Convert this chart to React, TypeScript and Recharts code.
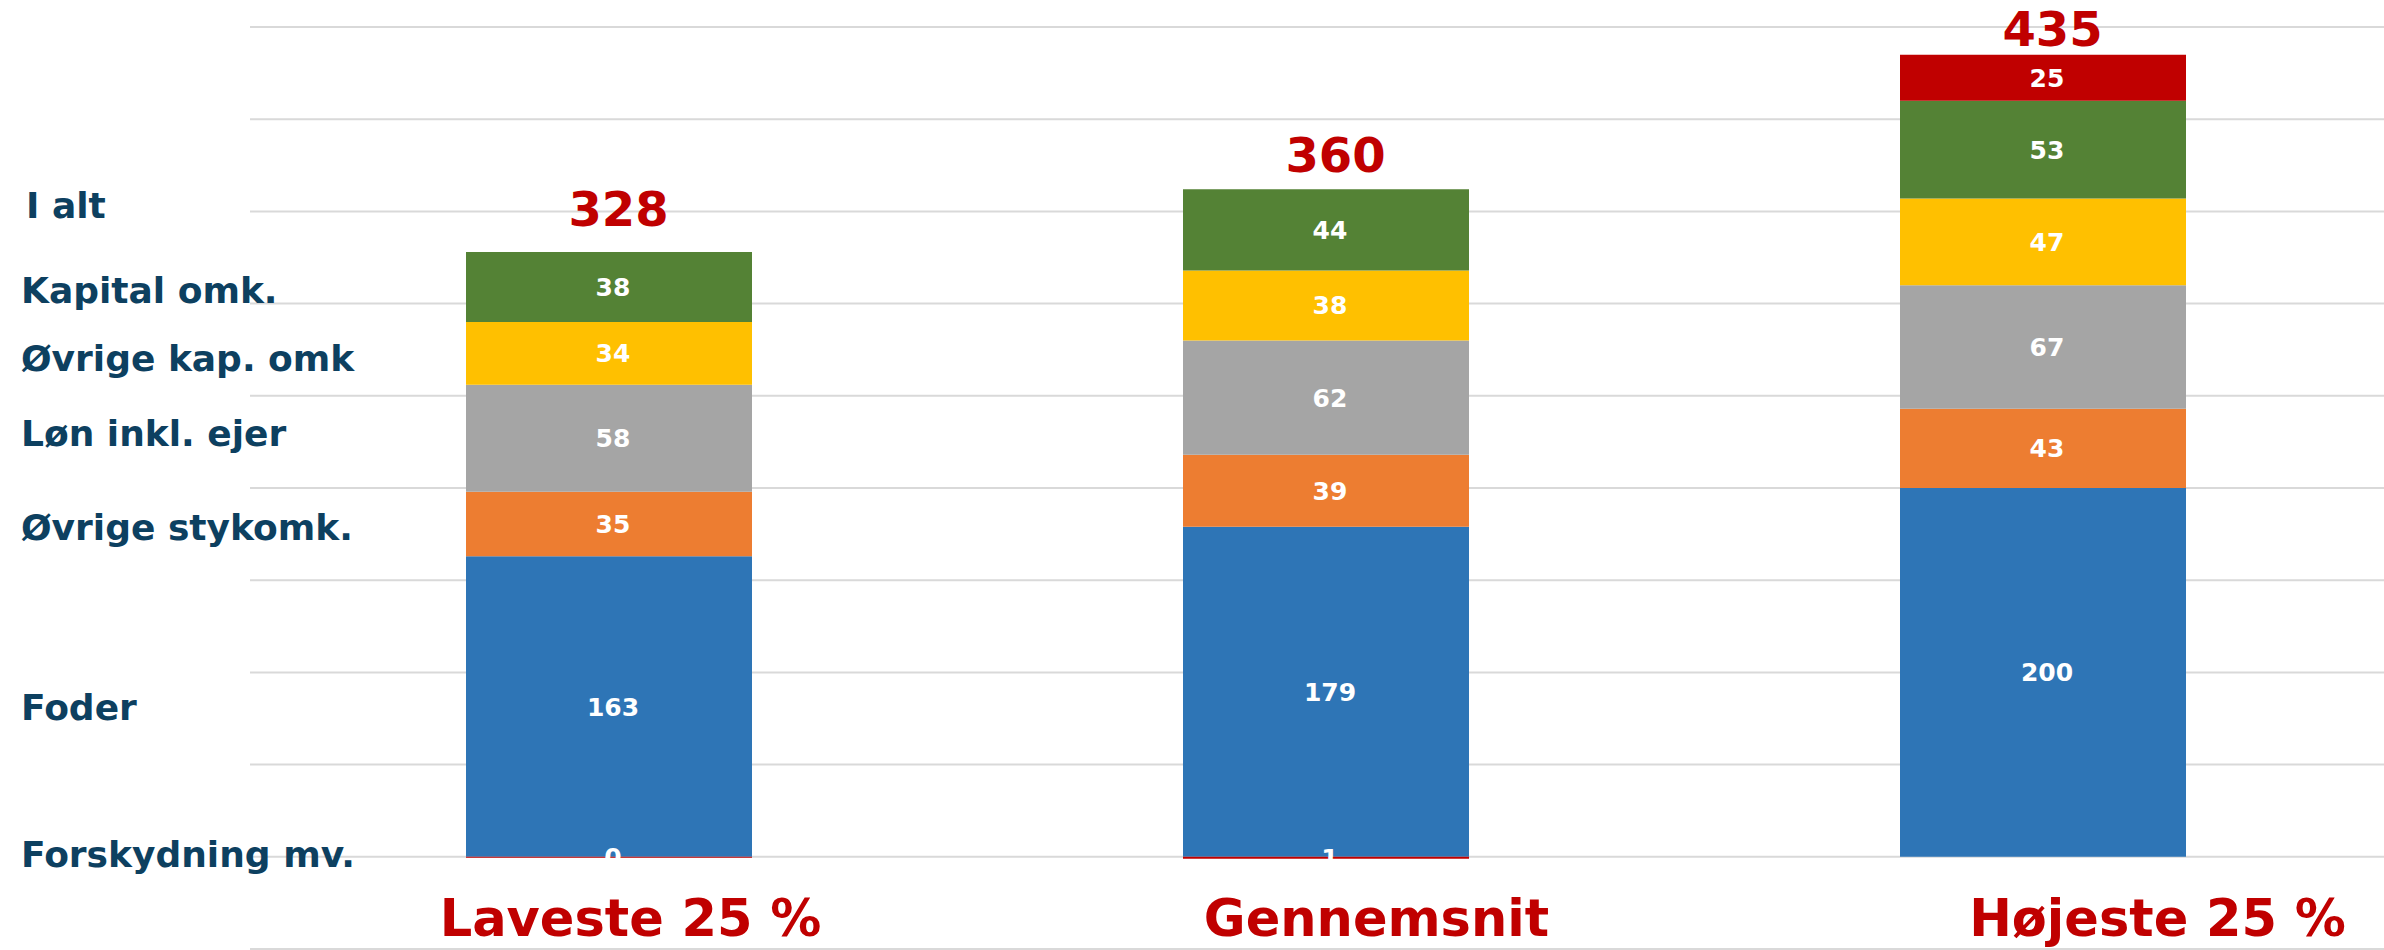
import React from 'react';
import {
  ComposedChart,
  Bar,
  Line,
  XAxis,
  YAxis,
  CartesianGrid,
  LabelList
} from 'recharts';

const categories = ['Laveste 25 %', 'Gennemsnit', 'Højeste 25 %'];
const foder = [163, 179, 200];
const stykomk = [35, 39, 43];
const loen = [58, 62, 67];
const kapOvrige = [34, 38, 47];
const kapital = [38, 44, 53];
const forskydning = [-0.5, -1, 25];
const iAlt = [328, 360, 435];
const yTicks = [-50, 0, 50, 100, 150, 200, 250, 300, 350, 400, 450];

const NAVY = '#0D4060';
const RED = '#C00000';

// stack order bottom -> top
const SERIES = [
  { key: 'foder', name: 'Foder', values: foder, color: '#2E75B6' },
  { key: 'stykomk', name: 'Øvrige stykomk.', values: stykomk, color: '#ED7D31' },
  { key: 'loen', name: 'Løn inkl. ejer', values: loen, color: '#A5A5A5' },
  { key: 'kapOvrige', name: 'Øvrige kap. omk', values: kapOvrige, color: '#FFC000' },
  { key: 'kapital', name: 'Kapital omk.', values: kapital, color: '#548235' },
  { key: 'forskydning', name: 'Forskydning mv.', values: forskydning, color: RED }
];

const chartData = categories.map((c, i) => {
  const row: Record<string, any> = { category: c, total: iAlt[i] };
  SERIES.forEach((s) => (row[s.key] = s.values[i]));
  return row;
});

// small nudges so the texts sit like in the original slide
const CAT_DX = [22, 51, 115];
const TOTAL_DY = [-26, -21, -9];
const CAT_BASELINE = 936;
const NAME_DY: Record<string, number> = {
  foder: 13,
  stykomk: 16,
  loen: 8,
  kapOvrige: 18,
  kapital: 16,
  forskydning: 10
};

const segmentLabel = (s: typeof SERIES[number]) => (props: any) => {
  const vb = props.viewBox ?? props;
  const { x, y, width, height } = vb;
  const i = props.index ?? 0;
  const cy = y + height / 2;
  return (
    <g>
      <text
        x={x + width / 2 + 4}
        y={cy}
        dy="0.36em"
        textAnchor="middle"
        fill="#FFFFFF"
        fontSize={25}
        fontWeight="bold"
      >
        {Math.abs(Math.round(s.values[i]))}
      </text>
      {i === 0 && (
        <text x={21} y={cy + NAME_DY[s.key]} fill={NAVY} fontSize={36} fontWeight="bold">
          {s.name}
        </text>
      )}
    </g>
  );
};

// totals above each stack, plus the category names under the baseline
const totalLabel = (props: any) => {
  const vb = props.viewBox ?? props;
  const { x, y } = vb;
  const i = props.index ?? 0;
  return (
    <g>
      <text
        x={x + 10}
        y={y + TOTAL_DY[i]}
        textAnchor="middle"
        fill={RED}
        fontSize={48}
        fontWeight="bold"
      >
        {iAlt[i]}
      </text>
      <text
        x={x + CAT_DX[i]}
        y={CAT_BASELINE}
        textAnchor="middle"
        fill={RED}
        fontSize={51}
        fontWeight="bold"
      >
        {categories[i]}
      </text>
      {i === 0 && (
        <text x={26} y={y - 34} fill={NAVY} fontSize={36} fontWeight="bold">
          I alt
        </text>
      )}
    </g>
  );
};

export default function App() {
  return (
    <div
      style={{
        position: 'absolute',
        left: 0,
        top: 0,
        width: 2384,
        height: 950,
        overflow: 'hidden',
        background: '#FFFFFF',
        fontFamily: '"DejaVu Sans", Verdana, sans-serif'
      }}
    >
      <ComposedChart
        width={2402}
        height={950}
        data={chartData}
        stackOffset="sign"
        margin={{ top: 27, right: 1, bottom: 1, left: 250 }}
      >
        <CartesianGrid vertical={false} stroke="#D9D9D9" strokeWidth={2} />
        <XAxis dataKey="category" hide />
        <YAxis hide domain={[-50, 450]} ticks={yTicks} allowDataOverflow />
        {SERIES.map((s) => (
          <Bar
            key={s.key}
            dataKey={s.key}
            name={s.name}
            stackId="a"
            fill={s.color}
            barSize={286}
            isAnimationActive={false}
          >
            <LabelList dataKey={s.key} content={segmentLabel(s)} />
          </Bar>
        ))}
        <Line
          dataKey="total"
          stroke="none"
          dot={false}
          activeDot={false}
          legendType="none"
          isAnimationActive={false}
        >
          <LabelList dataKey="total" content={totalLabel} />
        </Line>
      </ComposedChart>
    </div>
  );
}
